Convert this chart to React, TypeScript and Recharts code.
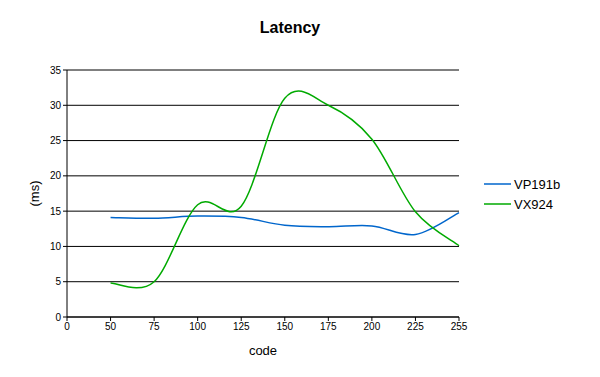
import { CartesianGrid, Label, Line, LineChart, XAxis, YAxis } from "recharts";

const codes = ["0", "50", "75", "100", "125", "150", "175", "200", "225", "255"];
const vp191b = [null, 14.1, 14.0, 14.3, 14.1, 13.0, 12.8, 12.9, 11.7, 14.8];
const vx924 = [null, 4.8, 5.0, 15.9, 15.7, 31.0, 30.0, 25.2, 14.9, 10.1];
const yTicks = [0, 5, 10, 15, 20, 25, 30, 35];

const seriesNames = ["VP191b", "VX924"];
const seriesColors = ["#0066cc", "#00aa00"];

const data = codes.map((code, i) => ({
  code,
  VP191b: vp191b[i],
  VX924: vx924[i],
}));

const FONT = '"Liberation Sans", Arial, sans-serif';

// Excel-style smoothing: uniform Catmull-Rom through every point
function curveSmooth(context: any) {
  let pts: number[][] = [];
  const flush = () => {
    if (pts.length === 0) return;
    context.moveTo(pts[0][0], pts[0][1]);
    for (let i = 0; i < pts.length - 1; i++) {
      const p0 = pts[i - 1] ?? pts[i];
      const p1 = pts[i];
      const p2 = pts[i + 1];
      const p3 = pts[i + 2] ?? p2;
      context.bezierCurveTo(
        p1[0] + (p2[0] - p0[0]) / 6,
        p1[1] + (p2[1] - p0[1]) / 6,
        p2[0] - (p3[0] - p1[0]) / 6,
        p2[1] - (p3[1] - p1[1]) / 6,
        p2[0],
        p2[1]
      );
    }
  };
  return {
    areaStart() {},
    areaEnd() {},
    lineStart() {
      pts = [];
    },
    lineEnd() {
      flush();
      pts = [];
    },
    point(x: number, y: number) {
      pts.push([+x, +y]);
    },
  };
}

export default function App() {
  return (
    <div
      style={{
        position: "absolute",
        left: 0,
        top: 0,
        width: 600,
        height: 377,
        background: "#fff",
        fontFamily: FONT,
      }}
    >
      <div
        style={{
          position: "absolute",
          left: 0,
          width: 580,
          top: 19,
          textAlign: "center",
          fontSize: 16,
          fontWeight: 700,
          color: "#000",
        }}
      >
        Latency
      </div>
      {/* legend drawn outside recharts so it doesn't shrink the plot */}
      <div
        style={{
          position: "absolute",
          left: 484,
          top: 174,
          fontSize: 13,
          color: "#000",
        }}
      >
        {seriesNames.map((name, i) => (
          <div key={name} style={{ display: "flex", alignItems: "center", height: 20 }}>
            <svg width={29} height={4} style={{ marginRight: 1 }}>
              <line x1={0} y1={2} x2={27} y2={2} stroke={seriesColors[i]} strokeWidth={1.5} />
            </svg>
            <span>{name}</span>
          </div>
        ))}
      </div>
      <LineChart
        width={600}
        height={377}
        data={data}
        margin={{ top: 70, right: 141, bottom: 0, left: 0 }}
        style={{ position: "absolute", left: 0, top: 0 }}
      >
        <CartesianGrid stroke="#000" strokeWidth={1} vertical={false} />
        <XAxis
          dataKey="code"
          height={60}
          tickSize={4}
          interval={0}
          stroke="#000"
          tick={{ fill: "#000", fontSize: 10, fontFamily: FONT }}
        >
          <Label
            value="code"
            position="insideBottom"
            offset={22}
            style={{ fill: "#000", fontSize: 13, fontFamily: FONT }}
          />
        </XAxis>
        <YAxis
          width={67}
          domain={[0, 35]}
          ticks={yTicks}
          tickSize={4}
          interval={0}
          stroke="#000"
          tick={{ fill: "#000", fontSize: 10, fontFamily: FONT }}
        >
          <Label
            value="(ms)"
            angle={-90}
            position="insideLeft"
            offset={34}
            style={{ fill: "#000", fontSize: 13, fontFamily: FONT, textAnchor: "middle" }}
          />
        </YAxis>
        {seriesNames.map((name, i) => (
          <Line
            key={name}
            dataKey={name}
            type={curveSmooth as any}
            stroke={seriesColors[i]}
            strokeWidth={1.5}
            dot={false}
            activeDot={false}
            isAnimationActive={false}
          />
        ))}
      </LineChart>
    </div>
  );
}
